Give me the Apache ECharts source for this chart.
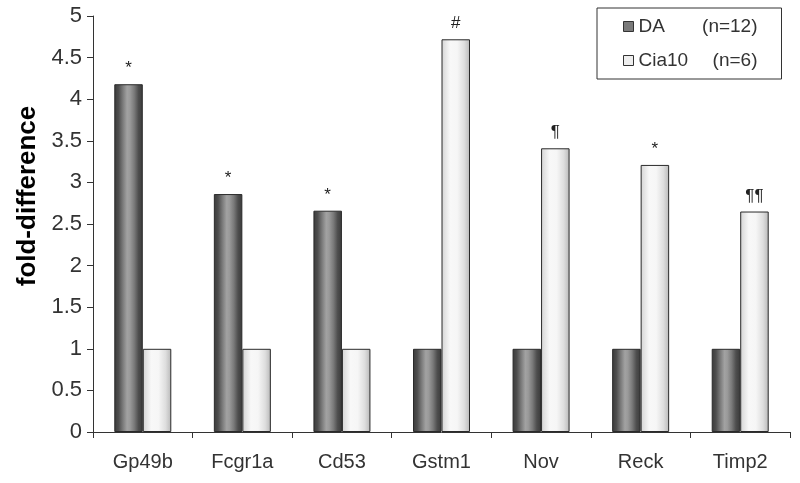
<!DOCTYPE html>
<html>
<head>
<meta charset="utf-8">
<script src="https://cdn.jsdelivr.net/npm/echarts@6/dist/echarts.min.js"></script>
<style>
html,body{margin:0;padding:0;background:#fff;}
#chart{width:800px;height:483px;}
</style>
</head>
<body>
<div id="chart"></div>
<script>
var categories = ['Gp49b', 'Fcgr1a', 'Cd53', 'Gstm1', 'Nov', 'Reck', 'Timp2'];
var daValues = [4.18, 2.86, 2.66, 1, 1, 1, 1];
var cia10Values = [1, 1, 1, 4.72, 3.41, 3.21, 2.65];
var daMarks = ['*', '*', '*', '', '', '', ''];
var cia10Marks = ['', '', '', '#', '¶', '*', '¶¶'];
var seriesNames = ['DA', 'Cia10'];
var seriesCounts = ['(n=12)', '(n=6)'];
var yTicks = [0, 0.5, 1, 1.5, 2, 2.5, 3, 3.5, 4, 4.5, 5];

var FONT = '"Liberation Sans", Arial, sans-serif';
var chart = echarts.init(document.getElementById('chart'));

var daGrad = new echarts.graphic.LinearGradient(0, 0, 1, 0, [
  {offset: 0, color: '#3a3a3a'},
  {offset: 0.15, color: '#4e4e4e'},
  {offset: 0.3, color: '#7a7a7a'},
  {offset: 0.45, color: '#a2a2a2'},
  {offset: 0.55, color: '#9a9a9a'},
  {offset: 0.7, color: '#7a7a7a'},
  {offset: 0.85, color: '#4e4e4e'},
  {offset: 1, color: '#3a3a3a'}
]);
var ciaGrad = new echarts.graphic.LinearGradient(0, 0, 1, 0, [
  {offset: 0, color: '#d4d4d4'},
  {offset: 0.3, color: '#f8f8f8'},
  {offset: 0.55, color: '#f6f6f6'},
  {offset: 0.8, color: '#dedede'},
  {offset: 1, color: '#b8b8b8'}
]);

function mkLabel(marks) {
  return {
    show: true,
    position: 'top',
    distance: 7,
    color: '#222',
    fontFamily: FONT,
    fontSize: 17,
    formatter: function (p) { return marks[p.dataIndex]; }
  };
}

chart.setOption({
  animation: false,
  backgroundColor: '#ffffff',
  grid: {left: 93, right: 10, top: 16, bottom: 51, containLabel: false},
  legend: {
    orient: 'vertical',
    left: 597,
    top: 8,
    padding: [9, 24, 9, 26],
    itemGap: 15,
    itemWidth: 10,
    itemHeight: 10,
    icon: 'rect',
    itemStyle: {borderColor: '#333', borderWidth: 1},
    borderColor: '#333',
    borderWidth: 1,
    borderRadius: 0,
    data: [
      {name: seriesNames[0], icon: 'rect', itemStyle: {color: '#7a7a7a'}},
      {name: seriesNames[1], icon: 'rect', itemStyle: {color: '#eeeeee'}}
    ],
    formatter: function (name) {
      var i = seriesNames.indexOf(name);
      return '{a|' + name + '}{b|' + seriesCounts[i] + '}';
    },
    textStyle: {
      fontFamily: FONT,
      fontSize: 19,
      color: '#333',
      rich: {
        a: {width: 62, align: 'left', fontFamily: FONT, fontSize: 19, color: '#333'},
        b: {width: 57, align: 'right', fontFamily: FONT, fontSize: 19, color: '#333'}
      }
    }
  },
  xAxis: {
    type: 'category',
    data: categories,
    axisLine: {lineStyle: {color: '#333', width: 1}},
    axisTick: {show: true, length: 6, lineStyle: {color: '#333'}},
    axisLabel: {fontFamily: FONT, fontSize: 20, color: '#333', margin: 20},
    splitLine: {show: false}
  },
  yAxis: {
    type: 'value',
    min: 0,
    max: 5,
    interval: 0.5,
    name: 'fold-difference',
    nameLocation: 'middle',
    nameRotate: 90,
    nameGap: 50,
    nameTextStyle: {fontFamily: FONT, fontSize: 26, fontWeight: 'bold', color: '#000', padding: [0, 0, 0, 56]},
    axisLine: {show: true, lineStyle: {color: '#333', width: 1}},
    axisTick: {show: true, length: 6, lineStyle: {color: '#333'}},
    axisLabel: {
      fontFamily: FONT, fontSize: 22, color: '#333', margin: 11,
      formatter: function (v) {
        for (var i = 0; i < yTicks.length; i++) { if (Math.abs(yTicks[i] - v) < 1e-9) return String(yTicks[i]); }
        return '';
      }
    },
    splitLine: {show: false}
  },
  series: [
    {
      name: seriesNames[0],
      type: 'bar',
      data: daValues,
      barWidth: 28.5,
      barGap: '0%',
      itemStyle: {color: daGrad, borderColor: '#2a2a2a', borderWidth: 1},
      label: mkLabel(daMarks)
    },
    {
      name: seriesNames[1],
      type: 'bar',
      data: cia10Values,
      barWidth: 28.5,
      barGap: '0%',
      itemStyle: {color: ciaGrad, borderColor: '#2a2a2a', borderWidth: 1},
      label: mkLabel(cia10Marks)
    }
  ]
});
</script>
</body>
</html>
